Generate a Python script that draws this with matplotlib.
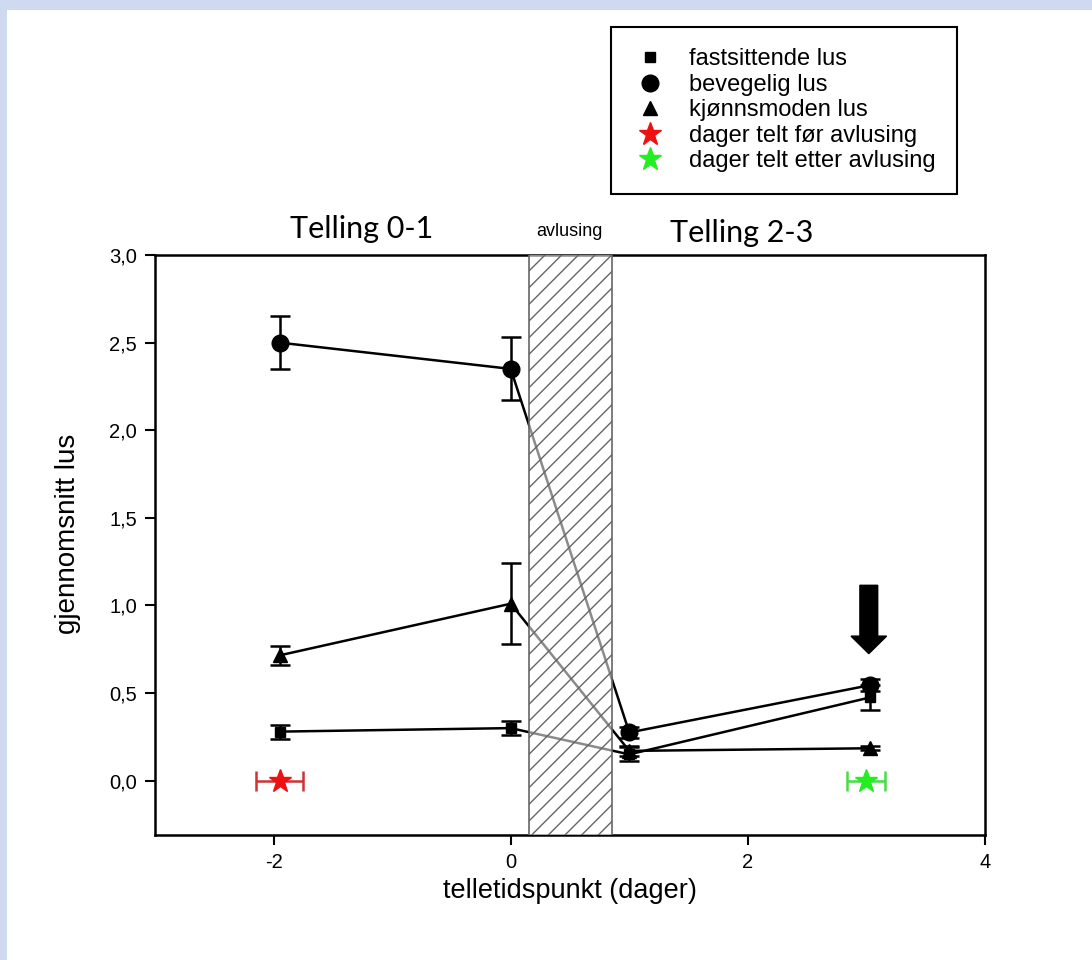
import matplotlib
matplotlib.use("Agg")
import matplotlib.pyplot as plt
from matplotlib.patches import Rectangle
from matplotlib.lines import Line2D

# data (mean lice per fish, with error bars)
x_days = [-1.95, 0.0, 1.0, 3.03]
fast_mean = [0.28, 0.30, 0.15, 0.475]
fast_err = [0.04, 0.04, 0.04, 0.07]
bev_mean = [2.50, 2.35, 0.275, 0.545]
bev_err = [0.15, 0.18, 0.03, 0.035]
kjonn_mean = [0.715, 1.01, 0.17, 0.185]
kjonn_err = [0.055, 0.23, 0.03, 0.012]

# counting days before / after delousing (stars at y=0 with horizontal spread)
star_x = [-1.95, 3.0]
star_y = [0.0, 0.0]
star_xerr = [0.2, 0.16]

delousing_span = (0.15, 0.85)
legend_labels = ["fastsittende lus", "bevegelig lus", "kjønnsmoden lus",
                 "dager telt før avlusing", "dager telt etter avlusing"]

plt.rcParams['font.family'] = ['Liberation Sans', 'DejaVu Sans']
plt.rcParams['axes.unicode_minus'] = False

fig = plt.figure(figsize=(10.92, 9.6), dpi=100, facecolor='white')
# blue strips along the top and left edge
blue = '#cfd9f0'
fig.patches.append(Rectangle((0, 1 - 10 / 960), 1, 10 / 960, transform=fig.transFigure,
                             facecolor=blue, edgecolor='none'))
fig.patches.append(Rectangle((0, 0), 7 / 1092, 1, transform=fig.transFigure,
                             facecolor=blue, edgecolor='none'))

ax = fig.add_axes([155 / 1092, 125 / 960, 830 / 1092, 580 / 960])
ax.set_facecolor('white')

ekw = dict(color='black', lw=1.8, capsize=7, capthick=1.8, elinewidth=1.8)
ax.errorbar(x_days, bev_mean, yerr=bev_err, marker='o', ms=12, **ekw)
ax.errorbar(x_days, kjonn_mean, yerr=kjonn_err, marker='^', ms=10, **ekw)
ax.errorbar(x_days, fast_mean, yerr=fast_err, marker='s', ms=6.5, **ekw)

ax.errorbar(star_x[:1], star_y[:1], xerr=star_xerr[:1], fmt='*', ms=17, color='#ee1111',
            ecolor='#cc3333', elinewidth=1.8, capsize=7, capthick=1.8)
ax.errorbar(star_x[1:], star_y[1:], xerr=star_xerr[1:], fmt='*', ms=17, color='#22ee22',
            ecolor='#44dd44', elinewidth=1.8, capsize=7, capthick=1.8)

# delousing period, drawn over the lines so they look grey inside
ax.add_patch(Rectangle((delousing_span[0], -1), delousing_span[1] - delousing_span[0], 5,
                       facecolor=(1, 1, 1, 0.55), edgecolor='#666666', hatch='//',
                       lw=1.2, zorder=3))

ax.arrow(3.02, 1.115, 0, -0.39, width=0.15, head_width=0.3, head_length=0.1,
         length_includes_head=True, color='black', zorder=4)

ax.set_xlim(-3, 4)
ax.set_ylim(-0.31, 3.0)
ax.set_xticks([-2, 0, 2, 4])
ax.set_yticks([0, 0.5, 1.0, 1.5, 2.0, 2.5, 3.0])
ax.set_yticklabels([f"{v:.1f}".replace('.', ',') for v in ax.get_yticks()])
ax.tick_params(direction='out', length=7, width=1.5, labelsize=14.5, pad=6)
for s in ax.spines.values():
    s.set_linewidth(1.8)
ax.set_xlabel("telletidspunkt (dager)", fontsize=19.5, labelpad=4)
ax.set_ylabel("gjennomsnitt lus", fontsize=20, labelpad=20)
ax.yaxis.label.set_y(0.52)

fig.text(362 / 1092, 1 - 229 / 960, "Telling 0-1", family='Lato', fontsize=22,
         ha='center', va='center')
fig.text(742 / 1092, 1 - 233 / 960, "Telling 2-3", family='Lato', fontsize=22,
         ha='center', va='center')
fig.text(569 / 1092, 1 - 232 / 960, "avlusing", fontsize=13, ha='center', va='center')

handles = [
    Line2D([], [], ls='none', marker='s', ms=6.5, color='black'),
    Line2D([], [], ls='none', marker='o', ms=12, color='black'),
    Line2D([], [], ls='none', marker='^', ms=10, color='black'),
    Line2D([], [], ls='none', marker='*', ms=17, color='#ee1111'),
    Line2D([], [], ls='none', marker='*', ms=17, color='#22ee22'),
]
leg = fig.legend(handles, legend_labels, loc='upper left',
                 bbox_to_anchor=(611 / 1092, 1 - 27 / 960), fontsize=17,
                 frameon=True, fancybox=False, edgecolor='black', framealpha=1,
                 labelspacing=0.15, handletextpad=0.9, borderpad=0.9,
                 handlelength=1.5, borderaxespad=0)
leg.get_frame().set_linewidth(1.5)

fig.savefig("out.png", dpi=100, facecolor=fig.get_facecolor())
